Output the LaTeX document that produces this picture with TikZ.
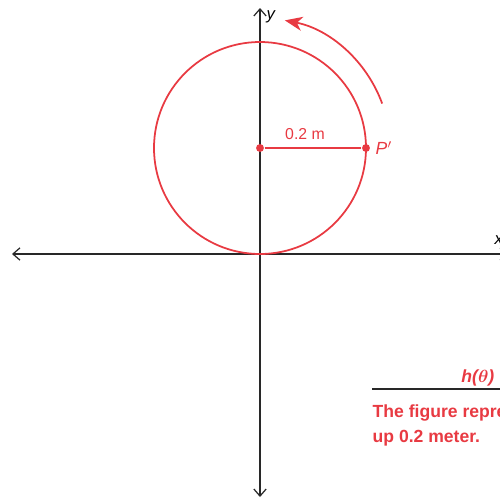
\documentclass[tikz,border=0pt]{standalone}
\usepackage{amsmath}
\usepackage{fontspec}
\setmainfont{Liberation Sans}
\usetikzlibrary{arrows.meta}
\definecolor{cred}{RGB}{232,58,66}
\definecolor{caxis}{RGB}{40,40,40}
\tikzset{
  axis/.style={draw=caxis, line width=0.7pt, -{Straight Barb[length=4pt,width=7pt]}},
  dot/.style={circle, fill=cred, inner sep=0pt, minimum size=4.5pt}
}
\begin{document}
\begin{tikzpicture}[x=0.02cm, y=-0.02cm, thick]
  \useasboundingbox (0,0) rectangle (500,501);
  \clip (0,0) rectangle (500,501);
  \coordinate (O) at (260,254);
  \coordinate (xl) at (12,254);
  \coordinate (xr) at (508,254);
  \coordinate (yt) at (260,8);
  \coordinate (yb) at (260,497);
  % axes
  \draw[axis] (O) -- (xl);
  \draw[axis] (O) -- (xr);
  \draw[axis] (O) -- (yt);
  \draw[axis] (O) -- (yb);
  \node[anchor=west, inner sep=0pt] (ylab) at (266,17) {\fontsize{9.5}{10}\selectfont\itshape y};
  \node[anchor=west, inner sep=0pt] (xlab) at (494,240) {\fontsize{9.5}{10}\selectfont\itshape x};
  % circle and radius
  \coordinate (C) at (260,148);
  \draw[cred, line width=1pt] (C) circle (106);
  \node[dot] (c) at (C) {};
  \node[dot] (P) at (366,148) {};
  \draw[cred, line width=1pt] (c) -- (P);
  \node[text=cred, inner sep=0pt] (r) at (305,134) {\fontsize{9}{10}\selectfont 0.2 m};
  \node[text=cred, anchor=west, inner sep=0pt] (Plab) at (375,148) {\fontsize{10}{11}\selectfont\itshape P$'$};
  % rotation arrow
  \draw[cred, line width=1pt, -{Stealth[length=10pt,width=8pt,inset=3pt]}]
    ([shift={(-20:130)}]C) arc[start angle=-20, end angle=-79, radius=130];
  % caption
  \node[text=cred, anchor=east, inner sep=0pt] (h) at (495,378) {\fontsize{10}{11}\selectfont\bfseries\itshape h($\boldsymbol{\theta}$)};
  \draw[caxis, line width=0.7pt] (372,389) -- (520,389);
  \node[text=cred, anchor=north west, align=left, inner sep=0pt,
    font=\fontsize{10}{14.3}\selectfont\bfseries] (cap) at (372,404)
    {The figure represents\\ up 0.2 meter.};
\end{tikzpicture}
\end{document}
